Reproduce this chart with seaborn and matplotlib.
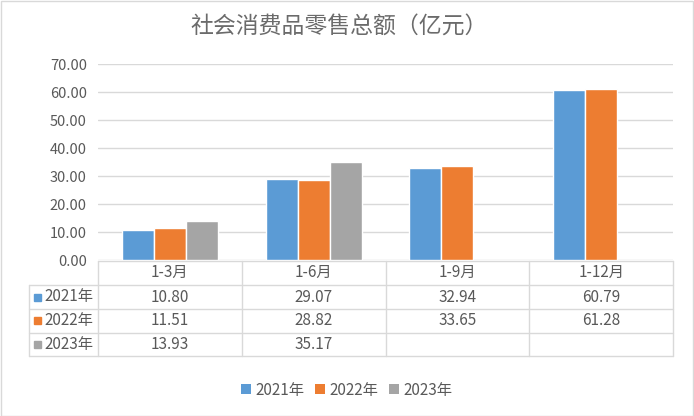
import numpy as np
import pandas as pd
import matplotlib
matplotlib.use("Agg")
import matplotlib.pyplot as plt
from matplotlib.patches import Patch, Rectangle
from matplotlib.lines import Line2D
import seaborn as sns

# ---- data ----
categories = ["1-3月", "1-6月", "1-9月", "1-12月"]
series_names = ["2021年", "2022年", "2023年"]
v2021 = [10.80, 29.07, 32.94, 60.79]
v2022 = [11.51, 28.82, 33.65, 61.28]
v2023 = [13.93, 35.17, None, None]
yticks = [0, 10, 20, 30, 40, 50, 60, 70]
title = "社会消费品零售总额（亿元）"

colors = ["#5B9BD5", "#ED7D31", "#A5A5A5"]
txt = "#595959"
grid = "#D9D9D9"

rows = []
for s, vals in zip(series_names, [v2021, v2022, v2023]):
    for c, v in zip(categories, vals):
        if v is not None:
            rows.append({"cat": c, "series": s, "val": v})
df = pd.DataFrame(rows)

sns.set_theme(style="white")
plt.rcParams["font.family"] = ["Noto Sans CJK SC", "DejaVu Sans"]

W, H = 694, 416
fig = plt.figure(figsize=(W / 100, H / 100), dpi=100)

def fx(px):
    return px / W

def fy(py):
    return 1 - py / H

L, R, T, B = 98, 673, 64.3, 260.3
ax = fig.add_axes([fx(L), fy(B), fx(R) - fx(L), fy(T) - fy(B)])
sns.barplot(data=df, x="cat", y="val", hue="series", order=categories,
            hue_order=series_names, palette=colors, width=2 / 3,
            saturation=1, ax=ax, legend=False, errorbar=None)
ax.set_ylim(0, 70)
ax.set_xlim(-0.5, len(categories) - 0.5)
ax.set_yticks(yticks)
ax.set_yticklabels([f"{t:.2f}" for t in yticks], color=txt, fontsize=10.5)
ax.tick_params(axis="y", length=0, pad=8)
ax.set_xticks([])
ax.set_xlabel("")
ax.set_ylabel("")
ax.yaxis.grid(True, color=grid, linewidth=1)
ax.set_axisbelow(True)
for sp in ax.spines.values():
    sp.set_visible(False)

# ---- title ----
fig.text(fx(339), fy(26), title, ha="center", va="center", fontsize=16.5,
         color="#6B6B6B")

# ---- data table ----
col_x = [L + i * (R - L) / len(categories) for i in range(len(categories) + 1)]
row_y = [260.5, 285, 309, 332.5, 356]
left_x = 29
lc = grid
lw = 1
def hline(y, x0, x1):
    fig.add_artist(Line2D([fx(x0), fx(x1)], [fy(y), fy(y)], color=lc, lw=lw))
def vline(x, y0, y1):
    fig.add_artist(Line2D([fx(x), fx(x)], [fy(y0), fy(y1)], color=lc, lw=lw))

hline(row_y[0], L, R)
for y in row_y[1:]:
    hline(y, left_x, R)
for x in col_x:
    vline(x, row_y[0], row_y[-1])
vline(left_x, row_y[1], row_y[-1])

fs = 11
for i, c in enumerate(categories):
    cx = (col_x[i] + col_x[i + 1]) / 2
    fig.text(fx(cx), fy((row_y[0] + row_y[1]) / 2), c, ha="center",
             va="center", fontsize=fs, color=txt)
for r, (s, vals) in enumerate(zip(series_names, [v2021, v2022, v2023])):
    cy = (row_y[r + 1] + row_y[r + 2]) / 2
    fig.add_artist(Rectangle((fx(34), fy(cy + 3.5)), fx(7), 7 / H,
                             color=colors[r], transform=fig.transFigure))
    fig.text(fx(44), fy(cy), s, ha="left", va="center", fontsize=fs,
             color=txt)
    for i, v in enumerate(vals):
        if v is None:
            continue
        cx = (col_x[i] + col_x[i + 1]) / 2
        fig.text(fx(cx), fy(cy), f"{v:.2f}", ha="center", va="center",
                 fontsize=fs, color=txt)

# ---- legend ----
handles = [Patch(facecolor=c, edgecolor="none") for c in colors]
fig.legend(handles, series_names, loc="center", bbox_to_anchor=(fx(347), fy(390)),
           ncol=3, frameon=False, fontsize=fs, labelcolor=txt,
           handlelength=0.65, handleheight=0.65, handletextpad=0.3,
           columnspacing=0.7)

# ---- outer border ----
fig.add_artist(Rectangle((0.5 / W, 0.5 / H), 1 - 1.5 / W, 1 - 1.5 / H,
                         fill=False, edgecolor="#D9D9D9", lw=1,
                         transform=fig.transFigure))

fig.savefig("out.png", dpi=100, facecolor="white")
